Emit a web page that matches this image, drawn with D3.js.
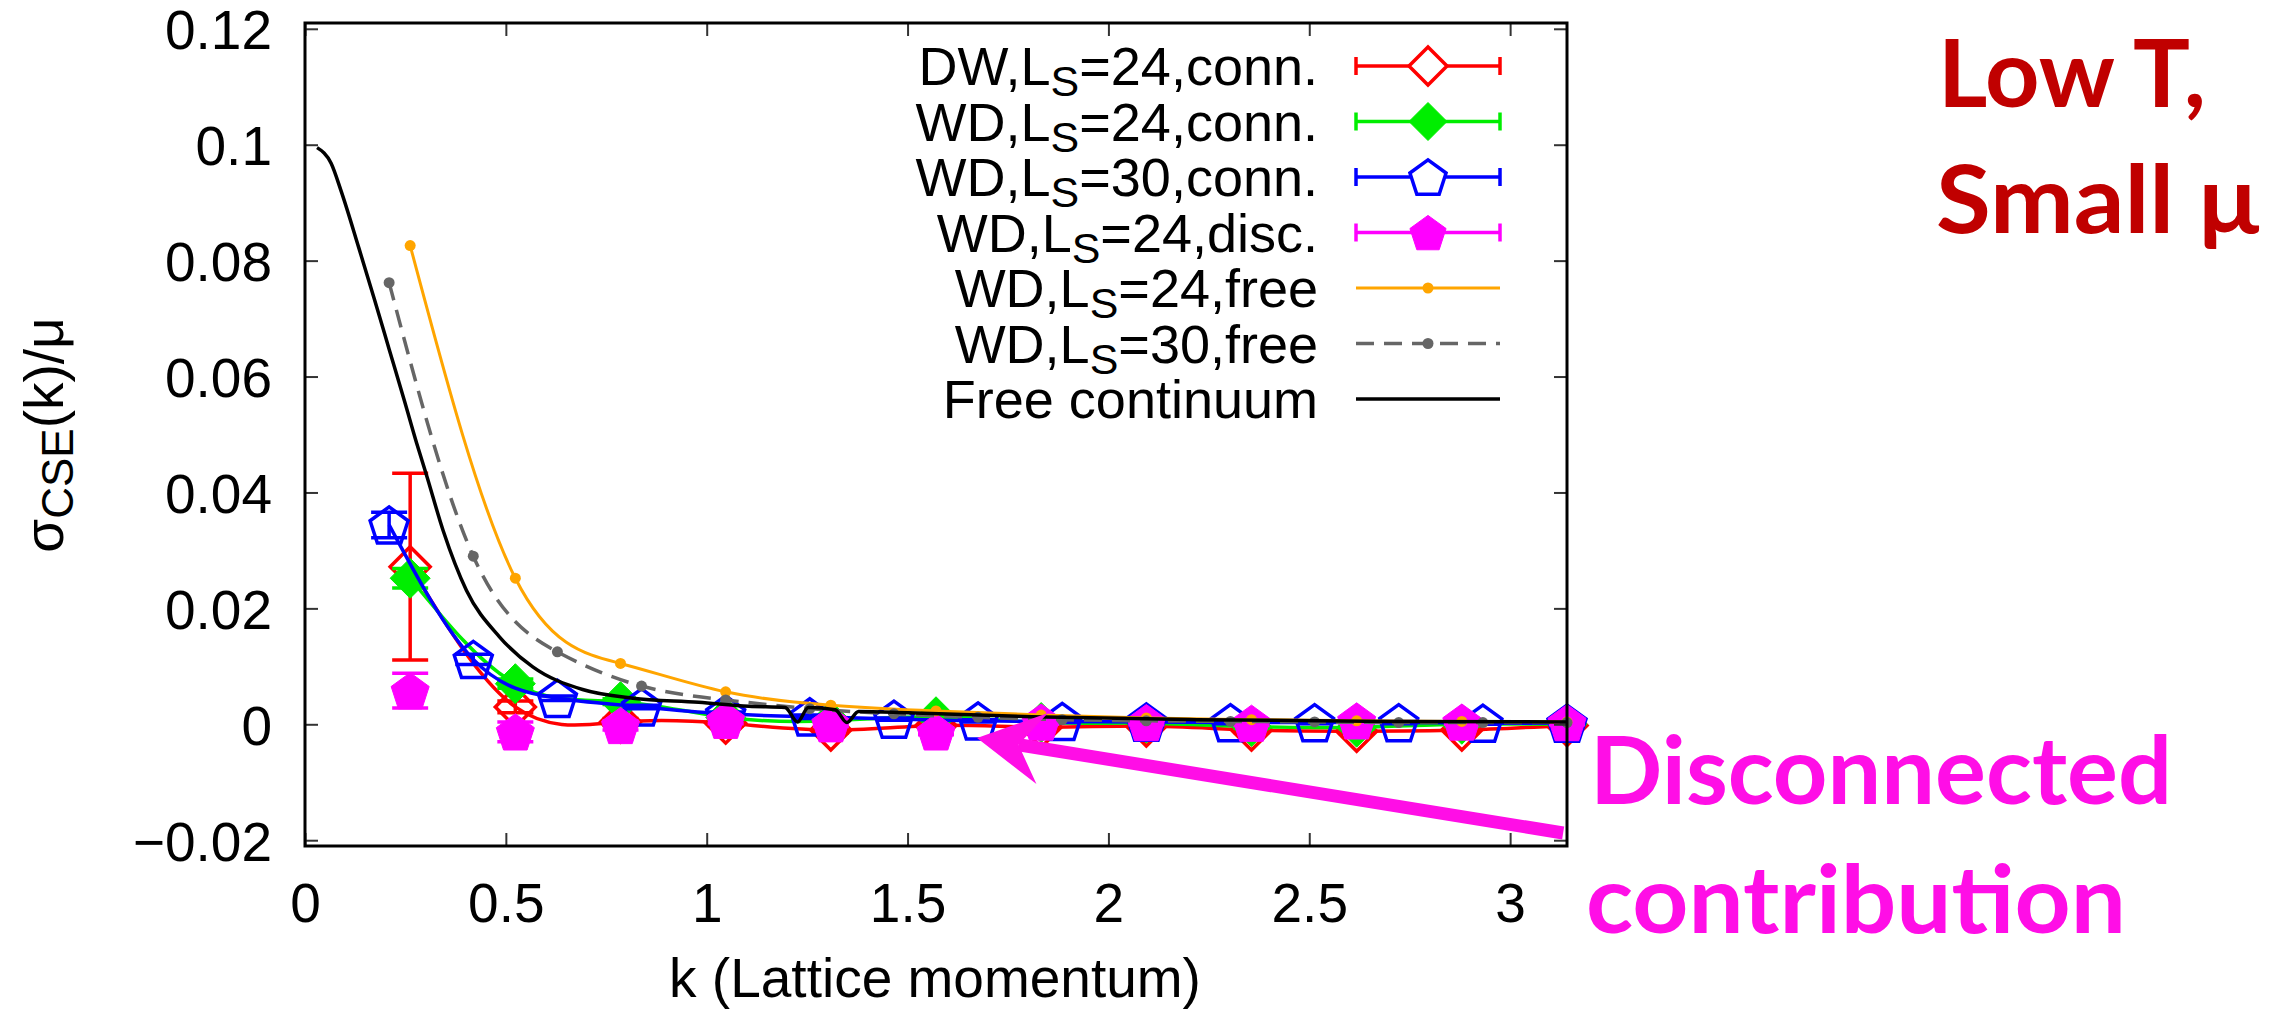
<!DOCTYPE html>
<html>
<head>
<meta charset="utf-8">
<title>sigma_CSE(k)/mu vs lattice momentum</title>
<script src="https://d3js.org/d3.v7.min.js"></script>
<style>
    body { margin: 0; background: #fff; }
    svg { display: block; }
    .txt { font-family: "Liberation Sans", Arial, sans-serif; fill: #000; }
    .note { font-family: Lato, "Open Sans", sans-serif; font-weight: bold; }
</style>
</head>
<body>
<svg id="chart" width="2293" height="1013"></svg>
<script>
    // lattice momenta k = 2*pi*n/L for the two spatial sizes
    const kL24 = [0.2618, 0.5236, 0.7854, 1.0472, 1.3090, 1.5708, 1.8326, 2.0944, 2.3562, 2.6180, 2.8798, 3.1416];
    const kL30 = [0.2094, 0.4189, 0.6283, 0.8378, 1.0472, 1.2566, 1.4661, 1.6755, 1.8850, 2.0944, 2.3038, 2.5133, 2.7227, 2.9322, 3.1416];

    // DW, Ls=24, connected
    const dw24Conn = [0.0272, 0.0030, 0.0004, 0.0002, -0.0010, -0.0002, -0.0005, -0.0003, -0.0010, -0.0012, -0.0010, -0.0002];
    const dw24Err  = [0.0161, 0.0010, 0.0006, 0.0005, 0.0005, 0.0004, 0.0004, 0.0004, 0.0004, 0.0004, 0.0004, 0.0004];
    // WD, Ls=24, connected
    const wd24Conn = [0.0252, 0.0070, 0.0039, 0.0012, 0.0006, 0.0013, 0.0003, 0.0002, -0.0004, -0.0005, 0.0000, 0.0000];
    const wd24Err  = [0.0017, 0.0008, 0.0005, 0.0004, 0.0003, 0.0003, 0.0003, 0.0003, 0.0003, 0.0003, 0.0003, 0.0003];
    // WD, Ls=30, connected
    const wd30Conn = [0.0344, 0.0112, 0.0045, 0.0030, 0.0018, 0.0013, 0.0009, 0.0006, 0.0005, 0.0004, 0.0003, 0.0003, 0.0003, 0.0002, 0.0002];
    const wd30Err  = [0.0022, 0.0009, 0.0004, 0.0003, 0.0003, 0.0003, 0.0002, 0.0002, 0.0002, 0.0002, 0.0002, 0.0002, 0.0002, 0.0002, 0.0002];
    // WD, Ls=24, disconnected
    const wd24Disc    = [0.0058, -0.0013, -0.0002, 0.0007, 0.0001, -0.0013, 0.0004, 0.0003, 0.0002, 0.0006, 0.0004, 0.0003];
    const wd24DiscErr = [0.0030, 0.0017, 0.0008, 0.0006, 0.0005, 0.0005, 0.0004, 0.0004, 0.0004, 0.0004, 0.0004, 0.0004];
    // free lattice results
    const wd24Free = [0.0826, 0.0252, 0.0105, 0.0056, 0.0033, 0.0023, 0.0016, 0.0011, 0.0008, 0.0006, 0.0005, 0.0004];
    const wd30Free = [0.0762, 0.0290, 0.0125, 0.0066, 0.0042, 0.0027, 0.0018, 0.0012, 0.0008, 0.0006, 0.0005, 0.0004, 0.0003, 0.0003, 0.0003];
    // free continuum curve
    const contK   = [0.030, 0.065, 0.090, 0.134, 0.172, 0.210, 0.248, 0.278, 0.302, 0.344, 0.402, 0.484, 0.567, 0.691, 0.816, 0.980, 1.105, 1.195, 1.226, 1.253, 1.320, 1.349, 1.378, 1.500, 1.810, 2.220, 2.700, 3.1416];
    const contVal = [0.0995, 0.0968, 0.0920, 0.0822, 0.0735, 0.0646, 0.0557, 0.0485, 0.0431, 0.0334, 0.0231, 0.0151, 0.0099, 0.0060, 0.0045, 0.0038, 0.0031, 0.0029, 0.0004, 0.0029, 0.0025, 0.0003, 0.0022, 0.0020, 0.0013, 0.0008, 0.0005, 0.0004];

    const xTicks = [0, 0.5, 1, 1.5, 2, 2.5, 3];
    const xTickLabels = ['0', '0.5', '1', '1.5', '2', '2.5', '3'];
    const yTicks = [-0.02, 0, 0.02, 0.04, 0.06, 0.08, 0.1, 0.12];
    const yTickLabels = ['\u22120.02', '0', '0.02', '0.04', '0.06', '0.08', '0.1', '0.12'];

    const svg = d3.select('#chart');
    svg.append('rect').attr('width', 2293).attr('height', 1013).attr('fill', '#fff');

    const x = d3.scaleLinear().domain([0, Math.PI]).range([305, 1567]);
    const y = d3.scaleLinear().domain([-0.021, 0.121]).range([846, 23]);

    const zip = (ks, vs, es) => ks.map((k, i) => ({k: k, v: vs[i], e: es ? es[i] : 0}));

    // marker shapes
    function diamondPath(r) {
        return `M0,${-r}L${r},0L0,${r}L${-r},0Z`;
    }
    function pentagonPath(r) {
        const pts = d3.range(5).map(i => {
            const a = -Math.PI / 2 + i * 2 * Math.PI / 5;
            return [r * Math.cos(a), r * Math.sin(a) + r * 0.1];
        });
        return 'M' + pts.map(p => p[0].toFixed(2) + ',' + p[1].toFixed(2)).join('L') + 'Z';
    }

    const plot = svg.append('g');

    function errorSeries(data, color, shape, filled) {
        const g = plot.append('g');
        const bars = g.selectAll('g.eb').data(data).enter().append('g').attr('class', 'eb')
            .attr('stroke', color).attr('stroke-width', 3.5);
        bars.append('line')
            .attr('x1', d => x(d.k)).attr('x2', d => x(d.k))
            .attr('y1', d => y(d.v - d.e)).attr('y2', d => y(d.v + d.e));
        bars.append('line')
            .attr('x1', d => x(d.k) - 18).attr('x2', d => x(d.k) + 18)
            .attr('y1', d => y(d.v + d.e)).attr('y2', d => y(d.v + d.e));
        bars.append('line')
            .attr('x1', d => x(d.k) - 18).attr('x2', d => x(d.k) + 18)
            .attr('y1', d => y(d.v - d.e)).attr('y2', d => y(d.v - d.e));
        g.selectAll('path.pt').data(data).enter().append('path').attr('class', 'pt')
            .attr('d', shape)
            .attr('transform', d => `translate(${x(d.k)},${y(d.v)})`)
            .attr('fill', filled ? color : 'none')
            .attr('stroke', color)
            .attr('stroke-width', filled ? 1 : 3.5);
    }

    function curve(data, color, width, dash, interp) {
        plot.append('path')
            .datum(data)
            .attr('fill', 'none')
            .attr('stroke', color)
            .attr('stroke-width', width)
            .attr('stroke-dasharray', dash)
            .attr('d', d3.line().x(d => x(d.k)).y(d => y(d.v)).curve(interp));
    }

    function dots(data, color) {
        plot.append('g').selectAll('circle').data(data).enter().append('circle')
            .attr('cx', d => x(d.k)).attr('cy', d => y(d.v)).attr('r', 5.5)
            .attr('fill', color);
    }

    const red = zip(kL24, dw24Conn, dw24Err);
    const green = zip(kL24, wd24Conn, wd24Err);
    const blue = zip(kL30, wd30Conn, wd30Err);
    const mag = zip(kL24, wd24Disc, wd24DiscErr);
    const orange = zip(kL24, wd24Free);
    const gray = zip(kL30, wd30Free);
    const cont = zip(contK, contVal);

    errorSeries(red, '#ff0000', diamondPath(20), false);
    curve(red, '#ff0000', 3.5, null, d3.curveNatural);
    errorSeries(green, '#00ee00', diamondPath(20), true);
    curve(green, '#00ee00', 3.5, null, d3.curveNatural);
    errorSeries(blue, '#0000ff', pentagonPath(20), false);
    curve(blue, '#0000ff', 3.5, null, d3.curveNatural);
    errorSeries(mag, '#ff00ff', pentagonPath(20), true);
    curve(orange, '#ffa500', 3, null, d3.curveNatural);
    dots(orange, '#ffa500');
    curve(gray, '#666666', 3.5, '18,10', d3.curveNatural);
    dots(gray, '#666666');
    curve(cont, '#000000', 3.5, null, d3.curveMonotoneX);

    // axes, gnuplot style: inward ticks on all four sides
    const axisStyle = g => {
        g.select('.domain').remove();
        g.selectAll('.tick line').attr('stroke', '#333').attr('stroke-width', 2);
        g.selectAll('.tick text').attr('class', 'txt').attr('font-size', 55);
    };
    svg.append('g').attr('transform', 'translate(0,846)')
        .call(d3.axisBottom(x).tickValues(xTicks).tickSize(-13).tickPadding(37)
            .tickFormat((d, i) => xTickLabels[i]))
        .call(axisStyle);
    svg.append('g').attr('transform', 'translate(0,23)')
        .call(d3.axisTop(x).tickValues(xTicks).tickSize(-13).tickFormat(''))
        .call(axisStyle);
    svg.append('g').attr('transform', 'translate(305,0)')
        .call(d3.axisLeft(y).tickValues(yTicks).tickSize(-13).tickPadding(33)
            .tickFormat((d, i) => yTickLabels[i]))
        .call(axisStyle)
        .selectAll('.tick text').attr('dy', '0.36em');
    svg.append('g').attr('transform', 'translate(1567,0)')
        .call(d3.axisRight(y).tickValues(yTicks).tickSize(-13).tickFormat(''))
        .call(axisStyle);
    svg.selectAll('text').attr('font-family', null);

    svg.append('rect')
        .attr('x', 305).attr('y', 23).attr('width', 1567 - 305).attr('height', 846 - 23)
        .attr('fill', 'none').attr('stroke', '#000').attr('stroke-width', 3);

    // axis titles
    svg.append('text').attr('class', 'txt').attr('font-size', 55)
        .attr('x', 935).attr('y', 997).attr('text-anchor', 'middle')
        .text('k (Lattice momentum)');
    const yl = svg.append('text').attr('class', 'txt').attr('font-size', 55)
        .attr('text-anchor', 'middle')
        .attr('transform', 'translate(63,435) rotate(-90)');
    yl.append('tspan').text('\u03c3');
    yl.append('tspan').attr('font-size', 44).attr('dy', 10).text('CSE');
    yl.append('tspan').attr('dy', -10).text('(k)/\u03bc');

    // legend
    const legendItems = [
        {pre: 'DW,L', post: '=24,conn.', color: '#ff0000', kind: 'err', shape: diamondPath(19), filled: false},
        {pre: 'WD,L', post: '=24,conn.', color: '#00ee00', kind: 'err', shape: diamondPath(19), filled: true},
        {pre: 'WD,L', post: '=30,conn.', color: '#0000ff', kind: 'err', shape: pentagonPath(19), filled: false},
        {pre: 'WD,L', post: '=24,disc.', color: '#ff00ff', kind: 'err', shape: pentagonPath(19), filled: true},
        {pre: 'WD,L', post: '=24,free', color: '#ffa500', kind: 'dot'},
        {pre: 'WD,L', post: '=30,free', color: '#666666', kind: 'dash'},
        {pre: 'Free continuum', post: null, color: '#000000', kind: 'line'}
    ];
    const legend = svg.append('g');
    legendItems.forEach((it, i) => {
        const cy = 66 + i * 55.5;
        const t = legend.append('text').attr('class', 'txt').attr('font-size', 54)
            .attr('x', 1318).attr('y', cy + 19).attr('text-anchor', 'end');
        t.append('tspan').text(it.pre);
        if (it.post) {
            t.append('tspan').attr('font-size', 43).attr('dy', 11).text('S');
            t.append('tspan').attr('dy', -11).text(it.post);
        }
        const sw = it.kind === 'dot' ? 3 : 3.5;
        legend.append('line').attr('x1', 1356).attr('x2', 1500).attr('y1', cy).attr('y2', cy)
            .attr('stroke', it.color).attr('stroke-width', sw)
            .attr('stroke-dasharray', it.kind === 'dash' ? '18,10' : null);
        if (it.kind === 'err') {
            [1356, 1500].forEach(xx => legend.append('line')
                .attr('x1', xx).attr('x2', xx).attr('y1', cy - 9).attr('y2', cy + 9)
                .attr('stroke', it.color).attr('stroke-width', 3.5));
            legend.append('path').attr('d', it.shape)
                .attr('transform', `translate(1428,${cy})`)
                .attr('fill', it.filled ? it.color : '#fff')
                .attr('stroke', it.color).attr('stroke-width', it.filled ? 1 : 3.5);
        } else if (it.kind !== 'line') {
            legend.append('circle').attr('cx', 1428).attr('cy', cy).attr('r', 5.5).attr('fill', it.color);
        }
    });

    // annotation arrow, in data coordinates
    const arrowTip = {k: 1.673, v: -0.00237};
    const arrowTail = {k: 3.132, v: -0.01876};
    const tip = [x(arrowTip.k), y(arrowTip.v)];
    const tail = [x(arrowTail.k), y(arrowTail.v)];
    const len = Math.hypot(tail[0] - tip[0], tail[1] - tip[1]);
    const u = [(tail[0] - tip[0]) / len, (tail[1] - tip[1]) / len];
    const n = [-u[1], u[0]];
    const headL = 66, headW = 36, notch = 42;
    const base = [tip[0] + u[0] * headL, tip[1] + u[1] * headL];
    const nt = [tip[0] + u[0] * notch, tip[1] + u[1] * notch];
    svg.append('line')
        .attr('x1', nt[0]).attr('y1', nt[1]).attr('x2', tail[0]).attr('y2', tail[1])
        .attr('stroke', '#ff0ee6').attr('stroke-width', 13);
    svg.append('path')
        .attr('d', `M${tip[0]},${tip[1]}L${base[0] + n[0] * headW},${base[1] + n[1] * headW}` +
            `L${nt[0]},${nt[1]}L${base[0] - n[0] * headW},${base[1] - n[1] * headW}Z`)
        .attr('fill', '#ff0ee6');

    // slide annotations
    const notes = [
        {t: 'Low T,', x: 1938, y: 107, w: 268, color: '#c00000'},
        {t: 'Small \u03bc', x: 1936, y: 233, w: 323, color: '#c00000'},
        {t: 'Disconnected', x: 1590, y: 804, w: 582, color: '#ff0ee6'},
        {t: 'contribution', x: 1586, y: 933, w: 540, color: '#ff0ee6'}
    ];
    notes.forEach(nn => {
        svg.append('text').attr('class', 'note')
            .attr('x', nn.x).attr('y', nn.y)
            .attr('font-size', 94)
            .attr('fill', nn.color)
            .attr('textLength', nn.w)
            .attr('lengthAdjust', 'spacingAndGlyphs')
            .text(nn.t);
    });
</script>
</body>
</html>
